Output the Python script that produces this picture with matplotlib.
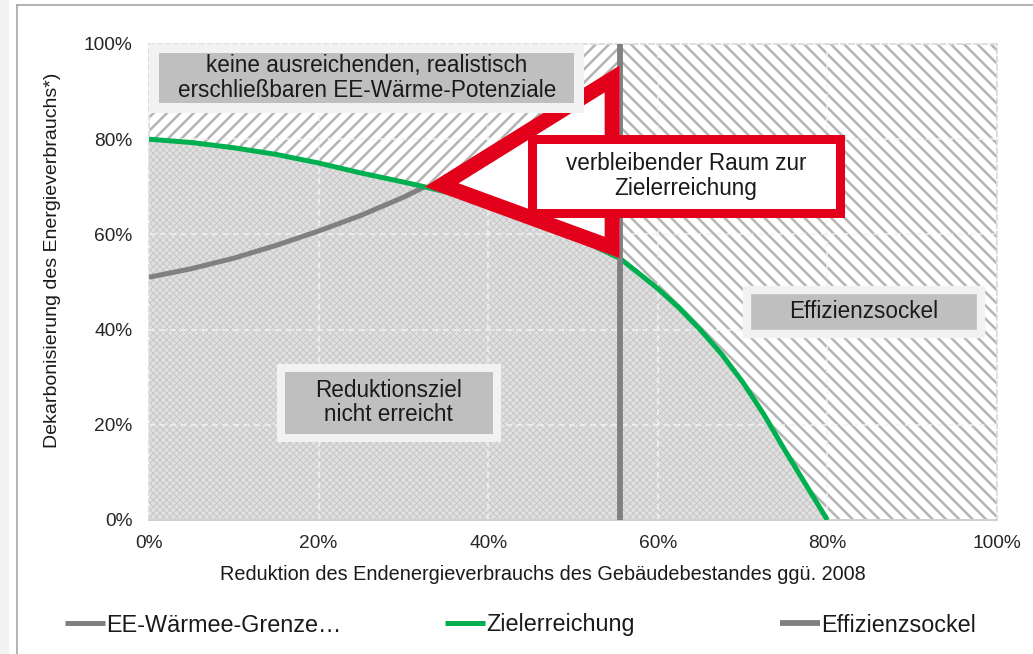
import matplotlib
matplotlib.use('Agg')
import matplotlib.pyplot as plt
from matplotlib.patches import Polygon, Rectangle
from matplotlib.lines import Line2D
from matplotlib.ticker import PercentFormatter
import numpy as np

plt.rcParams['font.family'] = ['Liberation Sans', 'DejaVu Sans']

# ---------------- data ----------------
green_x = [0, 5, 10, 15, 20, 25, 30, 32.5, 35, 40, 45, 50, 55.5, 57.5, 60,
           62.5, 65, 67.5, 70, 72.5, 75, 77.5, 80]
green_y = [80, 79.3, 78.2, 76.8, 75.0, 72.9, 71.0, 70, 68.9, 66.3, 63.2, 59.6,
           55, 52.2, 48.6, 44.6, 40.0, 34.9, 29.0, 22.2, 14.6, 7.3, 0]
grey_x = [0, 5, 10, 15, 20, 25, 30, 32.5]
grey_y = [51, 52.8, 55, 57.7, 60.7, 64, 67.8, 70]
sockel_x = 55.5
sockel_y = [0, 100]
tri_x = [32.5, 55.5, 55.5]
tri_y = [70, 95.5, 55]
x_ticks = [0, 20, 40, 60, 80, 100]
y_ticks = [0, 20, 40, 60, 80, 100]
legend_labels = ['EE-Wärmee-Grenze…', 'Zielerreichung', 'Effizienzsockel']
box_texts = ['keine ausreichenden, realistisch\nerschließbaren EE-Wärme-Potenziale',
             'Reduktionsziel\nnicht erreicht',
             'Effizienzsockel']
red_text = 'verbleibender Raum zur\nZielerreichung'
x_label = 'Reduktion des Endenergieverbrauchs des Gebäudebestandes ggü. 2008'
y_label = 'Dekarbonisierung des Energieverbrauchs*)'

# ---------------- styles ----------------
W, H, DPI = 1033, 654, 120
RED = '#e2001a'
GREEN = '#00b050'
GREY = '#808080'
TXT = '#1a1a1a'
HATCH_GREY = '#b4b4b4'
BOX_FS = 13.5

fig = plt.figure(figsize=(W / DPI, H / DPI), dpi=DPI)
ax = fig.add_axes([149 / W, 1 - 520 / H, 848 / W, 476 / H])
ax.set_xlim(0, 100)
ax.set_ylim(0, 100)


def set_hlw(art, lw):
    if hasattr(art, 'set_hatch_linewidth'):
        art.set_hatch_linewidth(lw)


gx = np.array(green_x, dtype=float)
gy = np.array(green_y, dtype=float)

# dotted region below the target curve
with plt.rc_context({'hatch.linewidth': 0.5}):
    dots = ax.fill_between(gx, 0, gy, facecolor='#e0e0e0', edgecolor='#c4c4c4',
                           hatch='xxxxxx', linewidth=0, zorder=1)
set_hlw(dots, 0.5)

# hatched region above the target curve, left of the efficiency base
mask_l = gx <= sockel_x
with plt.rc_context({'hatch.linewidth': 1.5}):
    hl = ax.fill_between(gx[mask_l], gy[mask_l], 100, facecolor='white',
                         edgecolor=HATCH_GREY, hatch='///', linewidth=0, zorder=1)
set_hlw(hl, 1.5)

# hatched region above the target curve, right of the efficiency base
rx = np.concatenate([gx[gx >= sockel_x], [100]])
ry = np.concatenate([gy[gx >= sockel_x], [0]])
with plt.rc_context({'hatch.linewidth': 1.5}):
    hr = ax.fill_between(rx, ry, 100, facecolor='white',
                         edgecolor=HATCH_GREY, hatch='\\\\\\', linewidth=0, zorder=1)
set_hlw(hr, 1.5)

# grid
ax.set_xticks(x_ticks)
ax.set_yticks(y_ticks)
ax.set_axisbelow('line')
ax.grid(True, color='#f2f2f2', linestyle=(0, (4, 3)), linewidth=0.9)

# lines
grey_line, = ax.plot(grey_x, grey_y, color=GREY, lw=3, zorder=3,
                     solid_capstyle='butt')
green_line, = ax.plot(green_x, green_y, color=GREEN, lw=3, zorder=3,
                      solid_capstyle='butt', solid_joinstyle='round')
sockel_line, = ax.plot([sockel_x, sockel_x], sockel_y, color=GREY, lw=3.5,
                       zorder=3, solid_capstyle='butt')

# red triangle (stroke kept inside the triangle)
verts = list(zip(tri_x, tri_y))
tri = Polygon(verts, closed=True, facecolor='white', edgecolor=RED,
              linewidth=18, joinstyle='miter', zorder=4)
ax.add_patch(tri)
clip = Polygon(verts, closed=True, transform=ax.transData)
tri.set_clip_path(clip)

# red text box
ax.add_patch(Rectangle((0.4522, 0.6460), 0.8154 - 0.4522, 0.7994 - 0.6460,
                       transform=ax.transAxes, facecolor='white', edgecolor=RED,
                       linewidth=5.4, joinstyle='miter', zorder=6))
ax.text(0.6333, 0.7227, red_text, transform=ax.transAxes, ha='center',
        va='center', fontsize=BOX_FS, color=TXT, zorder=7, linespacing=1.1)

# grey label boxes
boxes = [
    ((0.0059, 0.8645, 0.5071, 0.9916), (0.2571, 0.9286), 6.0),
    ((0.1557, 0.1733, 0.4098, 0.3193), (0.2824, 0.2468), 4.8),
    ((0.7046, 0.3908, 0.9811, 0.4832), (0.8432, 0.4370), 5.0),
]
for (x0, y0, x1, y1), (tx, ty), lw in boxes:
    ax.add_patch(Rectangle((x0, y0), x1 - x0, y1 - y0, transform=ax.transAxes,
                           facecolor='#bfbfbf', edgecolor='#f2f2f2',
                           linewidth=lw, joinstyle='miter', zorder=8))
for (box, (tx, ty), lw), t in zip(boxes, box_texts):
    ax.text(tx, ty, t, transform=ax.transAxes, ha='center', va='center',
            fontsize=BOX_FS, color=TXT, zorder=9, linespacing=1.1)

# axes styling
ax.xaxis.set_major_formatter(PercentFormatter(decimals=0))
ax.yaxis.set_major_formatter(PercentFormatter(decimals=0))
ax.tick_params(axis='both', length=0, labelsize=11.5, labelcolor='#262626')
ax.tick_params(axis='y', pad=10)
ax.tick_params(axis='x', pad=9)
for side in ['top', 'right', 'left']:
    ax.spines[side].set_color('#d9d9d9')
    ax.spines[side].set_linestyle((0, (3, 2)))
    ax.spines[side].set_linewidth(1.0)
ax.spines['bottom'].set_color('#d0d0d0')
ax.spines['bottom'].set_linewidth(1.2)

ax.text((543 - 149) / 848, (520 - 575) / 476, x_label, transform=ax.transAxes,
        ha='center', va='center', fontsize=11.9, color=TXT)
ax.text((53 - 149) / 848, 0.546, y_label, transform=ax.transAxes,
        ha='center', va='center', rotation=90, fontsize=11.7, color=TXT)

# legends
leg_x = [65 / W, 445 / W, 780 / W]
leg_y = 1 - 625 / H
for h, lab, lx in zip([grey_line, green_line, sockel_line], legend_labels, leg_x):
    fig.legend([h], [lab], loc='center left', bbox_to_anchor=(lx, leg_y),
               frameon=False, fontsize=14, handlelength=1.7,
               handletextpad=0.05, borderpad=0, borderaxespad=0,
               labelcolor=TXT)

# outer frame decoration
fig.add_artist(Rectangle((0, 0), 9 / W, 1, transform=fig.transFigure,
                         facecolor='#f2f2f2', edgecolor='none'))
fig.add_artist(Line2D([17 / W, 17 / W], [0, 1 - 5 / H], transform=fig.transFigure,
                      color='#a6a6a6', lw=1.0))
fig.add_artist(Line2D([17 / W, 1], [1 - 5 / H, 1 - 5 / H], transform=fig.transFigure,
                      color='#a6a6a6', lw=1.0))

fig.savefig('out.png', dpi=DPI)
